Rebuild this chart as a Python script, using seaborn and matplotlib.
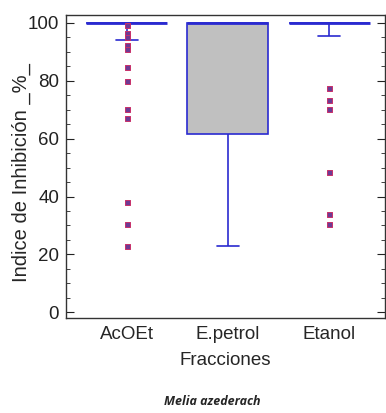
import numpy as np
import pandas as pd
import matplotlib
matplotlib.use('Agg')
import matplotlib.pyplot as plt
import seaborn as sns
from matplotlib.ticker import MultipleLocator

# categorias y resumen de cinco numeros
fracciones = ['AcOEt', 'E.petrol', 'Etanol']
whisker_lo = [94.0, 23.0, 95.5]
q1 = [100.0, 61.5, 100.0]
mediana = [100.0, 100.0, 100.0]
q3 = [100.0, 100.0, 100.0]
whisker_hi = [100.0, 100.0, 100.0]

# medias visibles (cruz roja)
media_frac = ['E.petrol']
media_val = [81.7]

# puntos atipicos
out_acoet = [99.3, 96.5, 95.3, 92.4, 90.9, 84.9, 79.8, 70.2, 67.3, 38.2, 30.6, 22.9]
out_etanol = [77.5, 73.2, 70.3, 48.4, 33.8, 30.6]

sns.set_style('ticks')
plt.rcParams['font.family'] = ['Liberation Sans', 'DejaVu Sans']

# tabla larga: con 5 valores por grupo, los cuartiles coinciden con el resumen
filas = []
for i, f in enumerate(fracciones):
    for v in (whisker_lo[i], q1[i], mediana[i], q3[i], whisker_hi[i]):
        filas.append({'Fracciones': f, 'valor': v})
df = pd.DataFrame(filas)

out_df = pd.DataFrame({
    'Fracciones': ['AcOEt'] * len(out_acoet) + ['Etanol'] * len(out_etanol),
    'valor': out_acoet + out_etanol,
})

azul = '#2a2ad0'
fig = plt.figure(figsize=(3.86, 4.13), dpi=100)
ax = fig.add_axes([0.171, 0.23, 0.826, 0.734])

sns.boxplot(data=df, x='Fracciones', y='valor', order=fracciones, ax=ax,
            whis=(0, 100), showfliers=False, width=0.8, color='#c0c0c0',
            linewidth=1.2, linecolor=azul,
            boxprops=dict(facecolor='#c0c0c0', edgecolor=azul),
            medianprops=dict(color=azul, linewidth=2),
            whiskerprops=dict(color=azul), capprops=dict(color=azul))

# tapas de bigote mas cortas, como en el original
for cap in ax.lines:
    xd = cap.get_xdata()
    if len(xd) == 2 and cap.get_ydata()[0] == cap.get_ydata()[1] and xd[0] != xd[1]:
        c = (xd[0] + xd[1]) / 2
        if abs(xd[1] - xd[0]) < 0.5:
            cap.set_xdata([c - 0.11, c + 0.11])

sns.stripplot(data=out_df, x='Fracciones', y='valor', order=fracciones, ax=ax,
              jitter=False, marker='s', size=3.6, color='#6e3a94',
              edgecolor='#c8306a', linewidth=0.7)

sns.scatterplot(x=media_frac, y=media_val, ax=ax, marker='+', s=30,
                color='#e02020', linewidth=1)

ax.set_xlim(-0.6, 2.55)
ax.set_ylim(-2, 102.8)
ax.yaxis.set_major_locator(MultipleLocator(20))
ax.yaxis.set_minor_locator(MultipleLocator(5))
ax.tick_params(axis='y', which='both', direction='in', right=True,
               labelsize=13.5, colors='#222222', pad=5)
ax.tick_params(axis='y', which='major', length=6)
ax.tick_params(axis='y', which='minor', length=3)
ax.tick_params(axis='x', length=0, labelsize=13.5, pad=6)
for s in ax.spines.values():
    s.set_color('#333333')
    s.set_linewidth(1)

ax.set_xlabel('Fracciones', fontsize=13.5, labelpad=6)
ax.set_ylabel('Indice de Inhibición _%_', fontsize=14.5)
ax.yaxis.set_label_coords(-0.11, 0.48)

fig.text(0.55, 0.012, 'Melia azederach', ha='center', va='bottom',
         fontsize=9, style='italic', fontweight='bold',
         family=['Open Sans', 'DejaVu Sans'])

fig.savefig('out.png', dpi=100)
